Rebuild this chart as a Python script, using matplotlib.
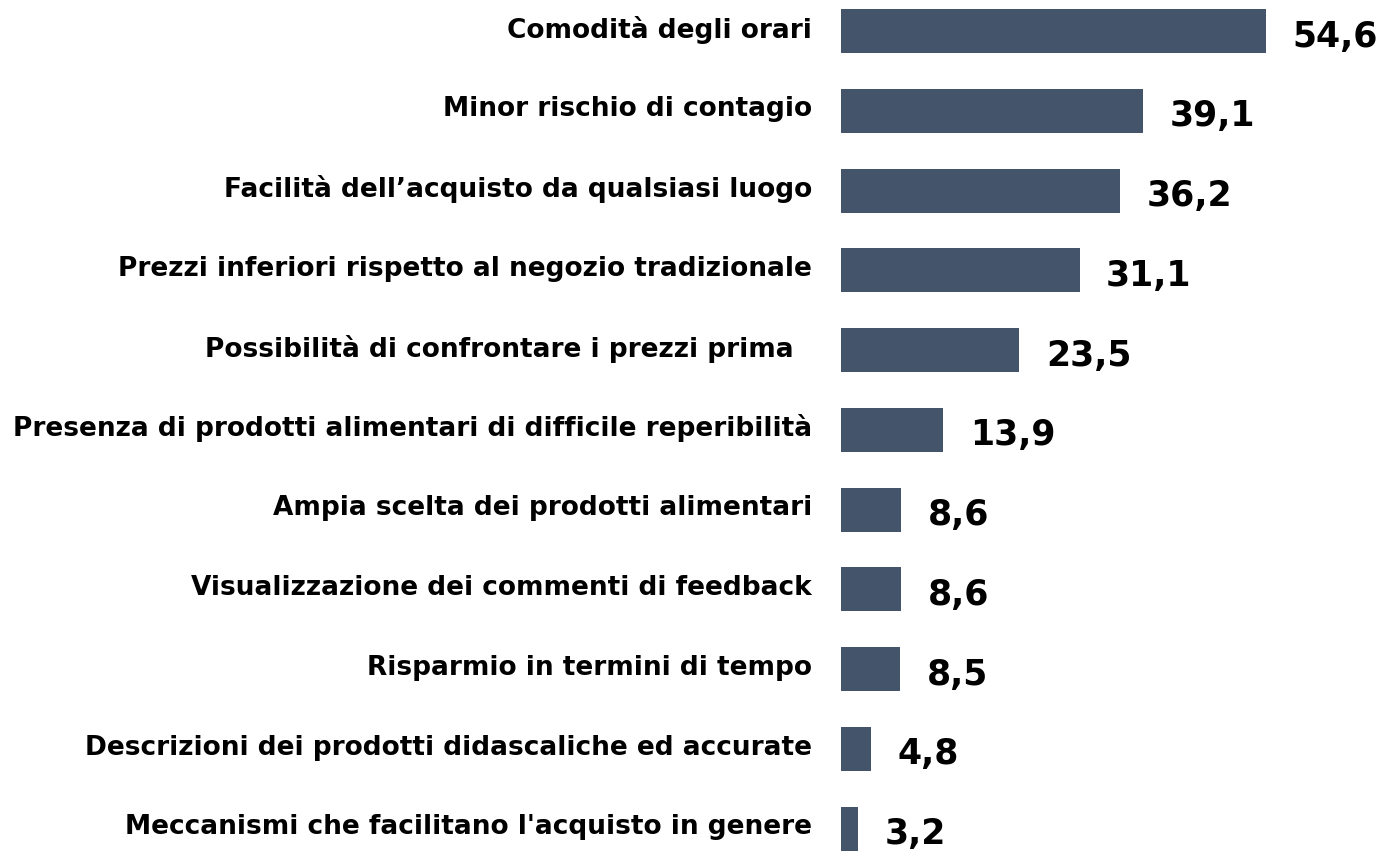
import matplotlib
matplotlib.use("Agg")
import matplotlib.pyplot as plt

categories = [
    "Comodità degli orari",
    "Minor rischio di contagio",
    "Facilità dell’acquisto da qualsiasi luogo",
    "Prezzi inferiori rispetto al negozio tradizionale",
    "Possibilità di confrontare i prezzi prima  ",
    "Presenza di prodotti alimentari di difficile reperibilità",
    "Ampia scelta dei prodotti alimentari",
    "Visualizzazione dei commenti di feedback",
    "Risparmio in termini di tempo",
    "Descrizioni dei prodotti didascaliche ed accurate",
    "Meccanismi che facilitano l'acquisto in genere",
]
values = [54.6, 39.1, 36.2, 31.1, 23.5, 13.9, 8.6, 8.6, 8.5, 4.8, 3.2]
value_labels = ["54,6", "39,1", "36,2", "31,1", "23,5", "13,9", "8,6", "8,6", "8,5", "4,8", "3,2"]

BAR_COLOR = "#44546A"
W, H = 1382, 851
fig = plt.figure(figsize=(W / 100, H / 100), dpi=100)
ax = fig.add_axes([841 / W, 0, 1 - 841 / W, 1])

n = len(values)
ypos = list(range(n))
ax.barh(ypos, values, height=0.55, color=BAR_COLOR, clip_on=True)
ax.set_xlim(1.0, 69.2)
ax.set_ylim(n - 1 + 0.28, -0.39)

for y, v, lab in zip(ypos, values, value_labels):
    ax.annotate(lab, xy=(v, y), xytext=(19, -4), textcoords="offset points",
                ha="left", va="center", fontsize=25, fontweight="bold",
                family="DejaVu Sans", color="black", annotation_clip=False)

for y, cat in zip(ypos, categories):
    ax.annotate(cat, xy=(0, y), xycoords=("axes fraction", "data"),
                xytext=(-21, 1), textcoords="offset points",
                ha="right", va="center", fontsize=19, fontweight="bold",
                family="DejaVu Sans", color="black", annotation_clip=False)

ax.set_axis_off()
fig.savefig("out.png", dpi=100, facecolor="white")
